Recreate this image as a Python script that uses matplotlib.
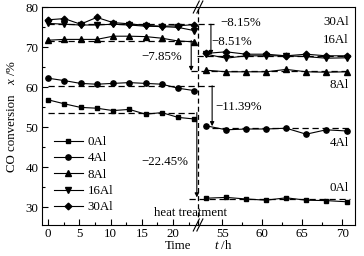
import numpy as np
import matplotlib.pyplot as plt

plt.rcParams['font.family'] = 'Liberation Serif'
plt.rcParams['mathtext.fontset'] = 'custom'
plt.rcParams['mathtext.rm'] = 'Liberation Serif'
plt.rcParams['mathtext.it'] = 'Liberation Serif:italic'
plt.rcParams['font.size'] = 9.3

# time on stream, h (before / after heat treatment)
t_before = [0, 2.6, 5.2, 7.8, 10.4, 13.0, 15.6, 18.2, 20.8, 23.4]
t_after = [53.0, 55.5, 58.0, 60.5, 63.0, 65.5, 68.0, 70.6]

# CO conversion, %
al0_before = [56.8, 55.8, 54.9, 54.7, 54.1, 54.4, 53.2, 53.6, 52.4, 52.0]
al0_after = [32.2, 32.4, 32.0, 31.7, 32.3, 31.7, 31.6, 31.3]
al4_before = [62.2, 61.6, 60.9, 60.7, 60.9, 61.1, 60.9, 60.7, 59.7, 59.1]
al4_after = [50.3, 49.3, 49.5, 49.5, 49.7, 48.2, 49.3, 49.0]
al8_before = [71.7, 71.9, 71.9, 71.9, 72.7, 72.7, 72.6, 72.2, 71.5, 71.3]
al8_after = [64.2, 63.8, 63.8, 63.8, 64.4, 63.8, 63.7, 63.8]
al16_before = [75.9, 75.7, 75.5, 75.5, 75.7, 75.5, 75.2, 75.1, 74.9, 74.1]
al16_after = [68.2, 67.2, 67.8, 67.8, 67.8, 67.6, 67.2, 67.3]
al30_before = [76.8, 77.1, 75.7, 77.4, 76.1, 75.8, 75.4, 75.2, 75.3, 75.6]
al30_after = [68.4, 68.8, 68.2, 68.2, 67.8, 68.2, 67.8, 67.8]

labels = ['0Al', '4Al', '8Al', '16Al', '30Al']
markers = ['s', 'o', '^', 'v', 'D']
msizes = [3.4, 3.8, 3.8, 3.8, 3.4]

# dashed guide lines: level, start, end
guide_y = [75.7, 71.6, 60.3, 53.6, 67.7, 64.0, 49.8, 31.9]
guide_t0 = [0, 0, 0, 0, 23.8, 22.9, 53.75, 22.5]
guide_t1 = [54.0, 22.9, 54.1, 23.8, 71.0, 71.0, 71.0, 71.0]

# drop arrows: x, from, to, text, text x, text y, alignment
arr_t = [22.9, 53.6, 53.75, 23.8]
arr_from = [71.6, 75.7, 60.3, 53.6]
arr_to = [64.0, 68.0, 50.2, 32.4]
drop_txt = ['\u22127.85%', '\u22128.15%', '\u221211.39%', '\u221222.45%']
drop_tx = [21.4, 54.8, 54.2, 22.4]
drop_ty = [67.4, 75.9, 55.0, 41.2]
drop_ha = ['right', 'left', 'left', 'right']

T_L, T_R = 24, 52


def fwd(t):
    return np.interp(t, [-10, T_L, T_R, 100], [-62.5, 150, 150.05, 150.05 + 48 * 8])


def inv(u):
    return np.interp(u, [-62.5, 150, 150.05, 150.05 + 48 * 8], [-10, T_L, T_R, 100])


fig = plt.figure(figsize=(3.64, 2.56), dpi=100)
ax = fig.add_axes([42 / 364, 1 - 225 / 256, 313 / 364, 218 / 256])
ax.set_xscale('function', functions=(fwd, inv))

before = [al0_before, al4_before, al8_before, al16_before, al30_before]
after = [al0_after, al4_after, al8_after, al16_after, al30_after]
for lab, m, ms, yb, ya in zip(labels, markers, msizes, before, after):
    ax.plot(t_before, yb, color='black', lw=0.8, marker=m, ms=ms, label=lab)
    ax.plot(t_after, ya, color='black', lw=0.8, marker=m, ms=ms)

for y, a, b in zip(guide_y, guide_t0, guide_t1):
    ax.plot([a, b], [y, y], color='black', lw=0.9, ls=(0, (5, 3)))

ax.axvline(T_L, color='black', lw=0.9, ls=(0, (4, 2.5)))

for x, y0, y1, s, tx, ty, ha in zip(arr_t, arr_from, arr_to, drop_txt, drop_tx, drop_ty, drop_ha):
    ax.annotate('', xy=(x, y1), xytext=(x, y0),
                arrowprops=dict(arrowstyle='-|>', color='black', lw=0.8,
                                mutation_scale=6, shrinkA=0, shrinkB=0))
    ax.text(tx, ty, s, ha=ha, va='center')

ax.text(53.7, 71.3, '\u22128.51%', ha='left', va='center')

side_lab = ['30Al', '16Al', '8Al', '4Al', '0Al']
side_y = [76.2, 71.7, 60.6, 46.0, 34.7]
for s, y in zip(side_lab, side_y):
    ax.text(70.8, y, s, ha='right', va='center')

ax.text(22.8, 28.5, 'heat treatment', ha='center', va='center')

ax.set_xlim(-0.96, 71.6)
ax.set_ylim(25.5, 80)
ax.set_xticks([0, 5, 10, 15, 20, 55, 60, 65, 70])
ax.set_xticks([2.5, 7.5, 12.5, 17.5, 22.5, 57.5, 62.5, 67.5], minor=True)
ax.set_yticks([30, 40, 50, 60, 70, 80])
ax.set_yticks([35, 45, 55, 65, 75], minor=True)
ax.tick_params(which='both', direction='in', width=0.8)
ax.tick_params(which='major', length=4, pad=2.5)
ax.tick_params(which='minor', length=2.5)
for sp in ax.spines.values():
    sp.set_linewidth(0.8)

# axis titles, placed as in the source figure
ax.text(0.435, -0.095, 'Time', transform=ax.transAxes, ha='center', va='center')
ax.text(0.578, -0.095, '$t$ /h', transform=ax.transAxes, ha='center', va='center')
ax.text(-0.097, 0.42, 'CO conversion', transform=ax.transAxes, ha='center',
        va='center', rotation=90)
ax.text(-0.097, 0.70, '$x$ /%', transform=ax.transAxes, ha='center',
        va='center', rotation=90)

# break marks
u0, u1 = fwd(-0.96), fwd(71.6)
fx = (fwd(T_L) - u0) / (u1 - u0)
for yb in (0, 1):
    for dx in (-1.8 / 313, 1.8 / 313):
        ax.plot([fx + dx - 3 / 313, fx + dx + 3 / 313], [yb - 6 / 218, yb + 6 / 218],
                transform=ax.transAxes, color='black', lw=0.8, clip_on=False)

ax.legend(loc='lower left', bbox_to_anchor=(0.0, 0.0), frameon=False,
          handlelength=2.3, labelspacing=0.33, borderpad=0.4, handletextpad=0.35)

fig.savefig('out.png', dpi=100)
